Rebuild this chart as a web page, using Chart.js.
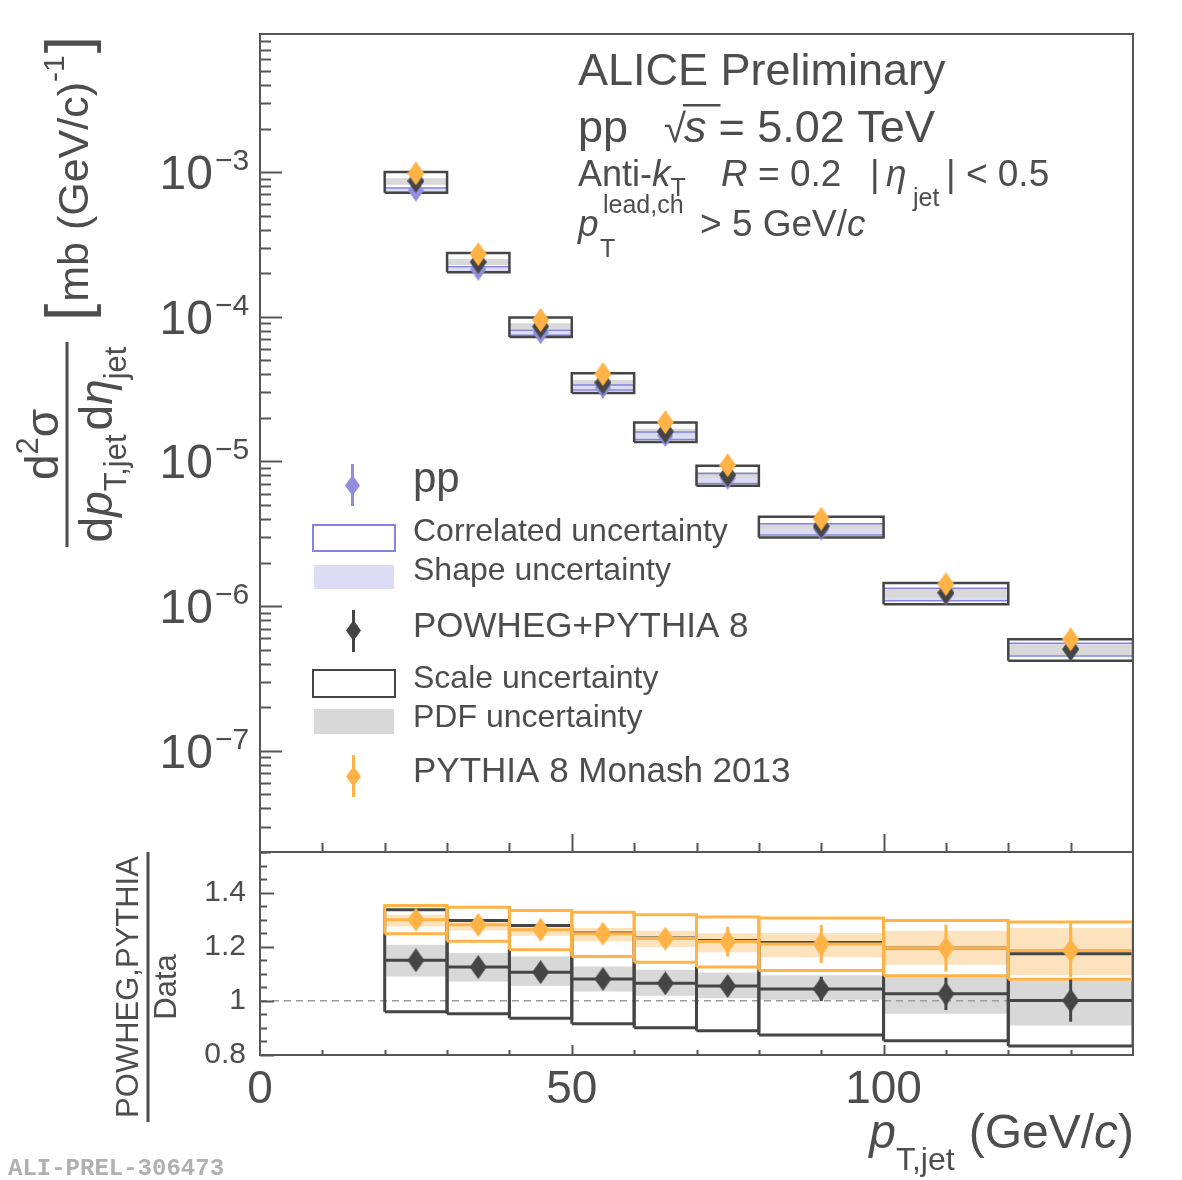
<!DOCTYPE html>
<html lang="en">
<head>
<meta charset="UTF-8">
<title>ALICE jet cross section, pp 5.02 TeV</title>
<script src="https://cdn.jsdelivr.net/npm/chart.js"></script>
<style>
  body { margin: 0; background: #fff; }
  #wrap { position: relative; width: 1182px; height: 1180px; }
  #wrap canvas { position: absolute; left: 0; top: 0; }
</style>
</head>
<body>
<div id="wrap">
  <canvas id="spec" width="1182" height="1180"></canvas>
  <canvas id="ratio" width="1182" height="1180"></canvas>
</div>
<script>
// pT,jet bins (GeV/c)
const binLo  = [20, 30, 40, 50, 60, 70, 80, 100, 120];
const binHi  = [30, 40, 50, 60, 70, 80, 100, 120, 140];
const binMid = [25, 35, 45, 55, 65, 75, 90, 110, 130];

// top panel: d2sigma/dpT deta, mb (GeV/c)^-1
const ppY     = [7.5e-4, 2.13e-4, 7.75e-5, 3.25e-5, 1.51e-5, 7.65e-6, 3.41e-6, 1.21e-6, 5.03e-7];
const ppCorr  = [0.035, 0.04, 0.04, 0.04, 0.06, 0.08, 0.09, 0.10, 0.10];
const ppShape = [0.03, 0.03, 0.035, 0.035, 0.05, 0.07, 0.08, 0.09, 0.09];
const powhegY = [8.67e-4, 2.39e-4, 8.56e-5, 3.51e-5, 1.61e-5, 8.07e-6, 3.56e-6, 1.24e-6, 5.04e-7];
const pythiaY = [9.8e-4, 2.71e-4, 9.5e-5, 4.02e-5, 1.87e-5, 9.43e-6, 4.02e-6, 1.42e-6, 5.9e-7];

// bottom panel: model / data
const powhegRatio = [1.15, 1.125, 1.106, 1.081, 1.065, 1.055, 1.044, 1.026, 1.001];
const powhegErr   = [0.01, 0.01, 0.012, 0.015, 0.02, 0.025, 0.045, 0.06, 0.078];
const scaleLo     = [0.96, 0.952, 0.936, 0.915, 0.901, 0.89, 0.874, 0.853, 0.833];
const scaleHi     = [1.337, 1.297, 1.278, 1.251, 1.232, 1.223, 1.216, 1.195, 1.174];
const pdfLo       = [1.09, 1.072, 1.056, 1.035, 1.019, 1.01, 1.004, 0.952, 0.909];
const pdfHi       = [1.207, 1.177, 1.164, 1.127, 1.115, 1.105, 1.095, 1.09, 1.074];
const pythiaRatio = [1.30, 1.281, 1.263, 1.248, 1.23, 1.219, 1.21, 1.195, 1.186];
const pythiaErr   = [0.01, 0.015, 0.02, 0.025, 0.03, 0.055, 0.07, 0.087, 0.1];
const pythiaBoxLo = [1.248, 1.22, 1.189, 1.164, 1.143, 1.125, 1.112, 1.093, 1.08];
const pythiaBoxHi = [1.352, 1.346, 1.334, 1.327, 1.318, 1.31, 1.306, 1.297, 1.291];
const pythiaBandLo = [1.275, 1.26, 1.241, 1.22, 1.199, 1.18, 1.162, 1.133, 1.096];
const pythiaBandHi = [1.318, 1.30, 1.281, 1.269, 1.259, 1.25, 1.251, 1.259, 1.269];

// axes
const xTicks = [0, 50, 100];
const logTicks = [1e-7, 1e-6, 1e-5, 1e-4, 1e-3];
const logExp = ['\u22127', '\u22126', '\u22125', '\u22124', '\u22123'];
const ratioTicks = [0.8, 1, 1.2, 1.4];
const ratioLabels = ['0.8', '1', '1.2', '1.4'];

const FONT = '"Liberation Sans", Arial, Helvetica, sans-serif';
const INK = '#4d4d4d';
const FRAME = '#555555';
const BLUE = '#8f8fde', BLUE_LINE = '#8484e0', BLUE_FILL = '#dcdcf4';
const DARK = '#454545', GREY_FILL = '#d8d8d8';
const ORANGE = '#ffb347', ORANGE_FILL = '#fde2be';

function diamond(color, w, h) {
  const c = document.createElement('canvas');
  c.width = w; c.height = h;
  const g = c.getContext('2d');
  g.fillStyle = color;
  g.beginPath();
  g.moveTo(w / 2, 0); g.lineTo(w, h / 2); g.lineTo(w / 2, h); g.lineTo(0, h / 2);
  g.closePath(); g.fill();
  return c;
}
const dBlue = diamond(BLUE, 16, 23), dDark = diamond(DARK, 17, 24), dOrange = diamond(ORANGE, 17, 24);
const lBlue = diamond(BLUE, 15, 21), lDark = diamond(DARK, 15, 21), lOrange = diamond(ORANGE, 15, 21);

function rect(x0, x1, y0, y1) {
  return [{x: x0, y: y0}, {x: x1, y: y0}, {x: x1, y: y1}, {x: x0, y: y1}, {x: x0, y: y0}];
}
function fillBox(x0, x1, y0, y1, color) {
  return { data: rect(x0, x1, y0, y1), fill: 'shape', backgroundColor: color,
           borderColor: 'rgba(0,0,0,0)', borderWidth: 0, pointRadius: 0 };
}
function lineBox(x0, x1, y0, y1, color, w) {
  return { data: rect(x0, x1, y0, y1), fill: false, borderColor: color, borderWidth: w, pointRadius: 0 };
}
function seg(pts, color, w) {
  return { data: pts, fill: false, borderColor: color, borderWidth: w, pointRadius: 0 };
}
function markers(ys, img) {
  return { data: binMid.map((x, i) => ({x, y: ys[i]})), showLine: false,
           pointStyle: img, pointRadius: 6, borderWidth: 0 };
}
function stack(list) { list.forEach((d, i) => { d.order = list.length - i; }); return list; }

// ---------- text helpers ----------
function fnt(p) { return (p.it ? 'italic ' : '') + (p.b ? 'bold ' : '') + p.s + 'px ' + (p.f || FONT); }
function flow(ctx, x, y, parts, align) {
  const w = parts.map(p => { ctx.font = fnt(p); return ctx.measureText(p.t).width + (p.gap || 0); });
  let tot = 0;
  parts.forEach((p, i) => { if (!p.keep) tot += w[i]; });
  if (align === 'center') x -= tot / 2;
  else if (align === 'right') x -= tot;
  ctx.textAlign = 'left'; ctx.textBaseline = 'alphabetic';
  parts.forEach((p, i) => {
    ctx.font = fnt(p);
    ctx.fillText(p.t, x, y + (p.dy || 0));
    if (p.over) { ctx.fillRect(x - 1, y + p.over, w[i] + 3, 2.5); }
    if (!p.keep) x += w[i];
  });
  return tot;
}
function put(ctx, t, x, y, s, it) {
  ctx.font = fnt({s, it}); ctx.textAlign = 'left'; ctx.textBaseline = 'alphabetic';
  ctx.fillText(t, x, y);
}

function hline(ctx, x0, x1, y) { ctx.beginPath(); ctx.moveTo(x0, y); ctx.lineTo(x1, y); ctx.stroke(); }
function vline(ctx, x, y0, y1) { ctx.beginPath(); ctx.moveTo(x, y0); ctx.lineTo(x, y1); ctx.stroke(); }

// ---------- top panel decoration ----------
const specDeco = {
  id: 'specDeco',
  afterDraw(chart) {
    const {ctx, chartArea: a, scales: {x, y}} = chart;
    ctx.save();
    ctx.strokeStyle = FRAME; ctx.lineWidth = 2;
    ctx.strokeRect(a.left, a.top, a.right - a.left, a.bottom - a.top);
    for (let d = -8; d <= -3; d++) {
      for (let m = 1; m <= 9; m++) {
        const v = m * Math.pow(10, d);
        if (v < y.min || v > y.max) continue;
        const py = Math.round(y.getPixelForValue(v)) + 0.5;
        hline(ctx, a.left, a.left + (m === 1 ? 22 : 11), py);
      }
    }
    for (let v = 10; v < 140; v += 10) {
      const px = Math.round(x.getPixelForValue(v)) + 0.5;
      vline(ctx, px, a.bottom, a.bottom - (v % 50 === 0 ? 18 : 9));
    }
    ctx.fillStyle = INK;
    logTicks.forEach((v, i) => {
      const py = y.getPixelForValue(v);
      ctx.font = '48px ' + FONT; ctx.textAlign = 'right'; ctx.textBaseline = 'alphabetic';
      ctx.fillText('10', 213, py + 17);
      ctx.font = '30px ' + FONT; ctx.textAlign = 'left';
      ctx.fillText(logExp[i], 215, py - 2);
    });

    // y title (rotated)
    ctx.save();
    ctx.rotate(-Math.PI / 2);
    ctx.fillRect(-547, 65.5, 205, 3);
    flow(ctx, -444.5, 58, [{t: 'd', s: 46}, {t: '2', s: 31, dy: -20}, {t: '\u03c3', s: 46}], 'center');
    flow(ctx, -444.5, 112, [
      {t: 'd', s: 46}, {t: 'p', s: 46, it: true}, {t: 'T,jet', s: 31, dy: 14, gap: 4},
      {t: 'd', s: 46}, {t: '\u03b7', s: 46, it: true}, {t: 'jet', s: 31, dy: 14}], 'center');
    flow(ctx, -321, 88, [
      {t: '[', s: 62, gap: 2}, {t: 'mb (GeV/c)', s: 43}, {t: '-1', s: 30, dy: -24, gap: 2}, {t: ']', s: 62}], 'left');
    ctx.restore();

    // header text
    flow(ctx, 578, 85, [{t: 'ALICE Preliminary', s: 45}]);
    flow(ctx, 578, 142, [{t: 'pp', s: 45, gap: 36}, {t: '\u221a', s: 40, gap: -2},
      {t: 's', s: 45, it: true, over: -38, gap: 12}, {t: '= 5.02 TeV', s: 45}]);
    flow(ctx, 578, 186, [{t: 'Anti-', s: 36}, {t: 'k', s: 37, it: true}, {t: 'T', s: 25, dy: 10}]);
    put(ctx, 'R', 721, 186, 37, true);
    put(ctx, '= 0.2', 758, 186, 37);
    put(ctx, '|', 870, 186, 37);
    put(ctx, '\u03b7', 886, 186, 37, true);
    put(ctx, 'jet', 913, 206, 25);
    put(ctx, '| < 0.5', 946, 186, 37);
    put(ctx, 'p', 578, 236, 37, true);
    put(ctx, 'T', 600, 257, 25);
    put(ctx, 'lead,ch', 603, 213, 25);
    flow(ctx, 700, 236, [{t: '> 5 GeV/', s: 37}, {t: 'c', s: 37, it: true}]);

    // legend
    ctx.lineWidth = 3;
    ctx.strokeStyle = BLUE; vline(ctx, 352.5, 464, 506); ctx.drawImage(lBlue, 345, 475);
    ctx.strokeStyle = DARK; vline(ctx, 353.5, 610, 652); ctx.drawImage(lDark, 346, 620);
    ctx.strokeStyle = ORANGE; vline(ctx, 353.5, 755, 797); ctx.drawImage(lOrange, 346, 766);
    ctx.lineWidth = 2;
    ctx.strokeStyle = BLUE_LINE; ctx.strokeRect(313, 525, 82, 26);
    ctx.fillStyle = BLUE_FILL; ctx.fillRect(314, 565, 80, 24);
    ctx.strokeStyle = DARK; ctx.strokeRect(313, 670, 82, 27);
    ctx.fillStyle = GREY_FILL; ctx.fillRect(314, 709, 80, 25);
    ctx.fillStyle = INK;
    flow(ctx, 413, 492, [{t: 'pp', s: 42}]);
    flow(ctx, 413, 541, [{t: 'Correlated uncertainty', s: 32}]);
    flow(ctx, 413, 580, [{t: 'Shape uncertainty', s: 32}]);
    flow(ctx, 413, 637, [{t: 'POWHEG+PYTHIA 8', s: 35}]);
    flow(ctx, 413, 688, [{t: 'Scale uncertainty', s: 32}]);
    flow(ctx, 413, 727, [{t: 'PDF uncertainty', s: 32}]);
    flow(ctx, 413, 782, [{t: 'PYTHIA 8 Monash 2013', s: 35}]);
    ctx.restore();
  }
};

// ---------- bottom panel decoration ----------
const ratioDeco = {
  id: 'ratioDeco',
  afterDraw(chart) {
    const {ctx, chartArea: a, scales: {x, y}} = chart;
    ctx.save();
    ctx.strokeStyle = FRAME; ctx.lineWidth = 2;
    ctx.strokeRect(a.left, a.top, a.right - a.left, a.bottom - a.top);
    for (let k = 16; k <= 31; k++) {
      const v = k * 0.05;
      if (v > y.max + 1e-9) continue;
      const py = Math.round(y.getPixelForValue(v)) + 0.5;
      hline(ctx, a.left, a.left + (k % 4 === 0 ? 14 : 7), py);
    }
    for (let v = 10; v < 140; v += 10) {
      const px = Math.round(x.getPixelForValue(v)) + 0.5;
      vline(ctx, px, a.bottom, a.bottom - (v % 50 === 0 ? 10 : 5));
    }
    ctx.fillStyle = INK;
    ctx.font = '30px ' + FONT; ctx.textAlign = 'right'; ctx.textBaseline = 'middle';
    ratioTicks.forEach((v, i) => ctx.fillText(ratioLabels[i], 246, y.getPixelForValue(v)));
    ctx.font = '46px ' + FONT; ctx.textAlign = 'center'; ctx.textBaseline = 'alphabetic';
    xTicks.forEach(v => ctx.fillText(String(v), x.getPixelForValue(v), 1103));

    flow(ctx, 1134, 1148, [{t: 'p', s: 48, it: true}, {t: 'T,jet', s: 32, dy: 22, gap: 14},
      {t: '(GeV/', s: 48}, {t: 'c', s: 48, it: true}, {t: ')', s: 48}], 'right');

    ctx.save();
    ctx.rotate(-Math.PI / 2);
    ctx.fillRect(-1122, 146.5, 270, 3);
    flow(ctx, -987, 138, [{t: 'POWHEG,PYTHIA', s: 31}], 'center');
    flow(ctx, -987, 176, [{t: 'Data', s: 31}], 'center');
    ctx.restore();

    ctx.fillStyle = '#b0b0b0';
    flow(ctx, 8, 1175, [{t: 'ALI-PREL-306473', s: 24, b: true, f: '"Liberation Mono", "DejaVu Sans Mono", monospace'}]);
    ctx.restore();
  }
};

// ---------- datasets ----------
const specSets = [];
binLo.forEach((lo, i) => specSets.push(fillBox(lo, binHi[i], ppY[i] * (1 - ppShape[i]), ppY[i] * (1 + ppShape[i]), BLUE_FILL)));
binLo.forEach((lo, i) => specSets.push(fillBox(lo, binHi[i], ppY[i] * pdfLo[i], ppY[i] * pdfHi[i], GREY_FILL)));
binLo.forEach((lo, i) => specSets.push(lineBox(lo, binHi[i], ppY[i] * (1 - ppCorr[i]), ppY[i] * (1 + ppCorr[i]), BLUE_LINE, 1.5)));
binLo.forEach((lo, i) => specSets.push(lineBox(lo, binHi[i], ppY[i] * scaleLo[i], ppY[i] * scaleHi[i], DARK, 2.5)));
specSets.push(markers(ppY, dBlue));
specSets.push(markers(powhegY, dDark));
specSets.push(markers(pythiaY, dOrange));
stack(specSets);

const ratioSets = [];
binLo.forEach((lo, i) => ratioSets.push(fillBox(lo, binHi[i], pdfLo[i], pdfHi[i], GREY_FILL)));
binLo.forEach((lo, i) => ratioSets.push(fillBox(lo, binHi[i], pythiaBandLo[i], pythiaBandHi[i], ORANGE_FILL)));
ratioSets.push(Object.assign(seg([{x: 0, y: 1}, {x: 140, y: 1}], '#9a9a9a', 1.5), {borderDash: [7, 5]}));
binLo.forEach((lo, i) => ratioSets.push(lineBox(lo, binHi[i], scaleLo[i], scaleHi[i], DARK, 3)));
binLo.forEach((lo, i) => ratioSets.push(lineBox(lo, binHi[i], pythiaBoxLo[i], pythiaBoxHi[i], ORANGE, 3)));
binLo.forEach((lo, i) => {
  ratioSets.push(seg([{x: lo, y: powhegRatio[i]}, {x: binHi[i], y: powhegRatio[i]}], DARK, 3));
  ratioSets.push(seg([{x: binMid[i], y: powhegRatio[i] - powhegErr[i]}, {x: binMid[i], y: powhegRatio[i] + powhegErr[i]}], DARK, 3));
});
binLo.forEach((lo, i) => {
  ratioSets.push(seg([{x: lo, y: pythiaRatio[i]}, {x: binHi[i], y: pythiaRatio[i]}], ORANGE, 3));
  ratioSets.push(seg([{x: binMid[i], y: pythiaRatio[i] - pythiaErr[i]}, {x: binMid[i], y: pythiaRatio[i] + pythiaErr[i]}], ORANGE, 3));
});
ratioSets.push(markers(powhegRatio, dDark));
ratioSets.push(markers(pythiaRatio, dOrange));
stack(ratioSets);

const common = {
  responsive: false, animation: false, devicePixelRatio: 1, events: [],
  plugins: { legend: { display: false }, tooltip: { enabled: false } }
};

new Chart(document.getElementById('spec'), {
  type: 'line',
  data: { datasets: specSets },
  options: Object.assign({}, common, {
    layout: { padding: { left: 260, top: 34, right: 49, bottom: 328 } },
    scales: {
      x: { type: 'linear', min: 0, max: 140, display: false },
      y: { type: 'logarithmic', min: 2e-8, max: 9e-3, display: false }
    }
  }),
  plugins: [specDeco]
});

new Chart(document.getElementById('ratio'), {
  type: 'line',
  data: { datasets: ratioSets },
  options: Object.assign({}, common, {
    layout: { padding: { left: 260, top: 852, right: 49, bottom: 125 } },
    scales: {
      x: { type: 'linear', min: 0, max: 140, display: false },
      y: { type: 'linear', min: 0.8, max: 1.55, display: false }
    }
  }),
  plugins: [ratioDeco]
});
</script>
</body>
</html>
